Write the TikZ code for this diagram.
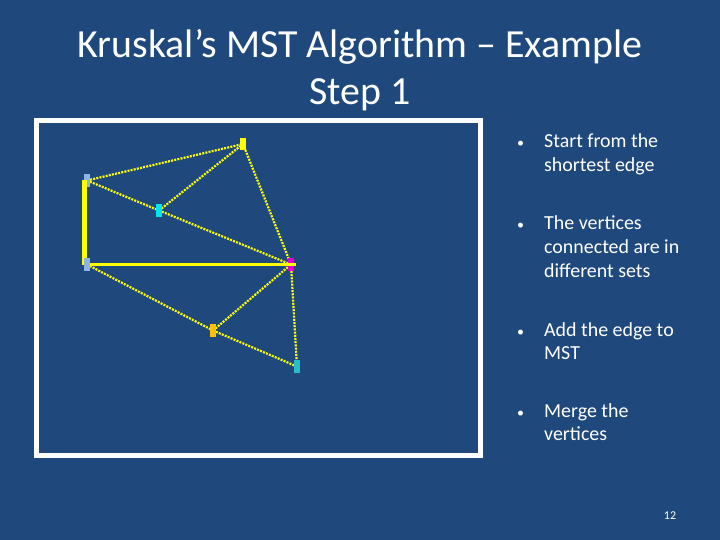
\documentclass[tikz,border=0pt]{standalone}
\usepackage{fontspec}
\setmainfont{Carlito}
\definecolor{slidebg}{RGB}{31,73,125}
\definecolor{mstyellow}{RGB}{255,255,0}
\definecolor{vblue}{RGB}{141,180,226}
\definecolor{vcyan}{RGB}{0,230,240}
\definecolor{vteal}{RGB}{40,190,200}
\definecolor{vorange}{RGB}{255,192,0}
\definecolor{vmagenta}{RGB}{230,0,210}
\newcommand{\slidepoint}[1]{\begin{tabular}[t]{@{}p{27bp}@{}l@{}}{\fontsize{14}{14}\selectfont •} & #1\end{tabular}}

\begin{document}
\begin{tikzpicture}[x=1bp,y=-1bp,
  vertex/.style={rectangle, inner sep=0pt, minimum width=6bp, minimum height=12.5bp},
  edge/.style={mstyellow, line width=2.2bp, dash pattern=on 2bp off 1.2bp},
  mstedge/.style={mstyellow},
  point/.style={anchor=base west, inner sep=0pt, text=white, font=\fontsize{20}{24}\selectfont}]
  %% Slide background
  \fill[slidebg] (0,0) rectangle (720,540);
  \useasboundingbox (0,0) rectangle (720,540);
  %% Title
  \node[text=white, font=\fontsize{40}{48}\selectfont, align=center, inner sep=0pt,
    anchor=base] (title) at (360,105) {Kruskal’s MST Algorithm – Example\\Step 1};
  %% Graph frame
  \draw[white, line width=5bp] (36.5,120.5) rectangle (480.5,455.5);
  %% Vertex positions
  \coordinate (A) at (243,144);
  \coordinate (B) at (87,180.5);
  \coordinate (C) at (159,210.5);
  \coordinate (D) at (87,264.5);
  \coordinate (E) at (291,264.5);
  \coordinate (F) at (213,330.5);
  \coordinate (G) at (297,366.5);
  %% Candidate edges
  \draw[edge] (B) -- (A);
  \draw[edge] (B) -- (C);
  \draw[edge] (C) -- (A);
  \draw[edge] (A) -- (E);
  \draw[edge] (C) -- (E);
  \draw[edge] (D) -- (F);
  \draw[edge] (F) -- (E);
  \draw[edge] (F) -- (G);
  \draw[edge] (E) -- (G);
  %% Vertices
  \node[vertex, fill=mstyellow] (vA) at (A) {};
  \node[vertex, fill=vblue]     (vB) at (B) {};
  \node[vertex, fill=vcyan]     (vC) at (C) {};
  \node[vertex, fill=vmagenta]  (vE) at (E) {};
  \node[vertex, fill=vorange]   (vF) at (F) {};
  \node[vertex, fill=vteal]     (vG) at (G) {};
  %% Edges already in the MST
  \draw[mstedge, line width=4.5bp] ([xshift=-2.5bp]vB.center) -- ([xshift=-2.5bp]D);
  \draw[mstedge, line width=3.5bp] (D) -- ([xshift=2bp]vE.east);
  \node[vertex, fill=vblue]     (vD) at (D) {};
  %% Bullet points
  \node[point] (p1) at (517,148) {\slidepoint{Start from the\\ & shortest edge}};
  \node[point] (p2) at (517,230) {\slidepoint{The vertices\\ & connected are in\\ & different sets}};
  \node[point] (p3) at (517,336) {\slidepoint{Add the edge to\\ & MST}};
  \node[point] (p4) at (517,417) {\slidepoint{Merge the\\ & vertices}};
  %% Slide number
  \node[text=white, font=\fontsize{12}{14}\selectfont, anchor=base, inner sep=0pt] (num) at (670,519) {12};
\end{tikzpicture}
\end{document}
